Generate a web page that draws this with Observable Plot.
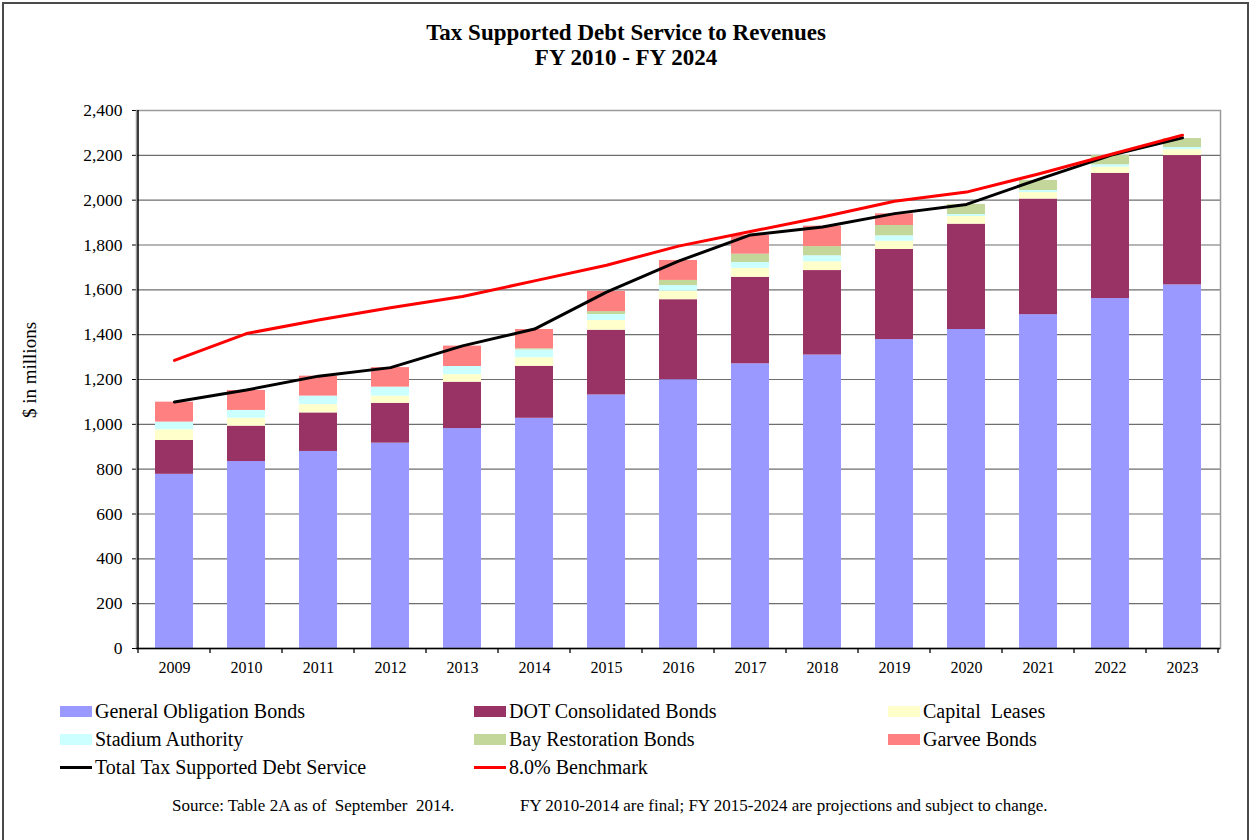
<!DOCTYPE html>
<html>
<head>
<meta charset="utf-8">
<script src="https://cdn.jsdelivr.net/npm/d3@7"></script>
<script src="https://cdn.jsdelivr.net/npm/@observablehq/plot@0.6"></script>
<style>
  html, body { margin: 0; padding: 0; background: #fff; }
  body { width: 1252px; height: 840px; position: relative; overflow: hidden; font-family: "Liberation Serif", "Times New Roman", serif; color: #000; }
  #frame { position: absolute; left: 2px; top: 2px; width: 1247px; height: 845px; border: 2px solid #4a4a4a; box-sizing: border-box; }
  #title { position: absolute; left: 0; top: 20px; width: 1252px; text-align: center; font-weight: bold; font-size: 23px; line-height: 25px; }
  #chart { position: absolute; left: 0; top: 90px; }
  #ylab { position: absolute; left: 30px; top: 370px; font-size: 19px; white-space: nowrap; transform: translate(-50%, -50%) rotate(-90deg); }
  .leg { position: absolute; font-size: 20px; line-height: 20px; white-space: pre; }
  .sw { position: absolute; width: 32px; height: 11px; }
  .ln { position: absolute; width: 32px; height: 3px; }
  .src { position: absolute; top: 797px; font-size: 17px; line-height: 18px; white-space: pre; }
</style>
</head>
<body>
<div id="frame"></div>
<div id="title">Tax Supported Debt Service to Revenues<br>FY 2010 - FY 2024</div>
<div id="chart"></div>
<div id="ylab">$ in millions</div>
<div id="legend"></div>
<div class="src" style="left:172px">Source: Table 2A as of  September  2014.</div>
<div class="src" style="left:520px">FY 2010-2014 are final; FY 2015-2024 are projections and subject to change.</div>
<script>
// ---- data ----
const years = ["2009","2010","2011","2012","2013","2014","2015","2016","2017","2018","2019","2020","2021","2022","2023"];
const seriesNames = ["General Obligation Bonds","DOT Consolidated Bonds","Capital  Leases","Stadium Authority","Bay Restoration Bonds","Garvee Bonds"];
const seriesColors = ["#9999FF","#993366","#FFFFCC","#CCFFFF","#C4D79B","#FF8080"];
const generalObligation = [777, 834, 879, 916, 981, 1027, 1131, 1199, 1270, 1309, 1378, 1423, 1489, 1561, 1622];
const dotConsolidated   = [151, 158, 172, 178, 207, 232, 289, 357, 386, 377, 402, 470, 516, 559, 577];
const capitalLeases     = [48, 35, 37, 32, 34, 38, 43, 38, 40, 39, 37, 34, 29, 27, 26];
const stadiumAuthority  = [34, 35, 38, 40, 36, 35, 27, 25, 26, 27, 24, 9, 9, 11, 10];
const bayRestoration    = [0, 0, 0, 0, 0, 5, 13, 23, 37, 41, 46, 45, 45, 41, 40];
const garveeBonds       = [89, 89, 89, 87, 91, 86, 90, 89, 84, 91, 52, 0, 0, 0, 0];
const totalDebtService  = [1100, 1153, 1215, 1253, 1350, 1425, 1590, 1728, 1845, 1880, 1940, 1981, 2093, 2200, 2278];
const benchmark8pct     = [1285, 1405, 1465, 1520, 1570, 1640, 1710, 1795, 1860, 1925, 1995, 2036, 2117, 2204, 2290];
const yTicks = [0,200,400,600,800,1000,1200,1400,1600,1800,2000,2200,2400];
const lineNames = ["Total Tax Supported Debt Service","8.0% Benchmark"];
const lineColors = ["#000000","#FF0000"];

// ---- build tables ----
const seriesValues = [generalObligation, dotConsolidated, capitalLeases, stadiumAuthority, bayRestoration, garveeBonds];
const stacked = [];
years.forEach((yr, i) => {
  seriesNames.forEach((s, j) => stacked.push({year: yr, series: s, value: seriesValues[j][i]}));
});
const totalRows = years.map((yr, i) => ({year: yr, value: totalDebtService[i]}));
const benchRows = years.map((yr, i) => ({year: yr, value: benchmark8pct[i]}));

const chart = Plot.plot({
  width: 1252,
  height: 600,
  marginLeft: 136,
  marginRight: 32,
  marginTop: 20,
  marginBottom: 42,
  style: {fontFamily: "'Liberation Serif', 'Times New Roman', serif", fontSize: "16px", color: "#000", background: "transparent"},
  x: {type: "band", domain: years, paddingInner: 0.47, paddingOuter: 0.235, tickSize: 0, tickPadding: 13, label: null},
  y: {domain: [0, 2400], ticks: yTicks, tickFormat: d3.format(","), tickSize: 4, tickPadding: 10, label: null},
  color: {domain: seriesNames, range: seriesColors},
  marks: [
    Plot.ruleY(yTicks.filter(d => d > 0 && d < 2400), {stroke: "#6e6e6e", strokeWidth: 1.2}),
    Plot.barY(stacked, {x: "year", y: "value", fill: "series", order: seriesNames}),
    Plot.frame({stroke: "#9a9a9a", strokeWidth: 1.5}),
    Plot.ruleY([0], {stroke: "#000", strokeWidth: 1.5}),
    Plot.line(totalRows, {x: "year", y: "value", stroke: lineColors[0], strokeWidth: 3}),
    Plot.line(benchRows, {x: "year", y: "value", stroke: lineColors[1], strokeWidth: 3})
  ]
});
document.getElementById("chart").appendChild(chart);

// y-axis tick labels a little larger, like the reference
d3.select(chart).selectAll("g[aria-label='y-axis tick label'] text, g[aria-label='y-axis'] text").style("font-size", "17.5px");

// x tick marks at band boundaries and left axis line, using the plot's own scales
const xs = chart.scale("x");
const ysc = chart.scale("y");
const svg = d3.select(chart);
const step = xs.step, bw = xs.bandwidth;
const gap = (step - bw) / 2;
const y0 = ysc.apply(0);
const bounds = years.map(yr => xs.apply(yr) - gap).concat([xs.apply(years[years.length - 1]) + bw + gap]);
const g = svg.append("g");
g.selectAll("line.xt").data(bounds).join("line")
  .attr("x1", d => d).attr("x2", d => d).attr("y1", y0).attr("y2", y0 + 5)
  .attr("stroke", "#000").attr("stroke-width", 1.3);
g.append("line").attr("x1", bounds[0]).attr("x2", bounds[0])
  .attr("y1", ysc.apply(2400)).attr("y2", y0).attr("stroke", "#000").attr("stroke-width", 1.5);

// ---- legend ----
const legend = document.getElementById("legend");
const colX = [60, 474, 888];
const rowY = [711, 739, 767];
const items = seriesNames.map((n, i) => ({name: n, color: seriesColors[i], type: "box"}))
  .concat(lineNames.map((n, i) => ({name: n, color: lineColors[i], type: "line"})));
items.forEach((it, i) => {
  const c = i % 3, r = Math.floor(i / 3);
  const sw = document.createElement("div");
  sw.className = it.type === "box" ? "sw" : "ln";
  sw.style.background = it.color;
  sw.style.left = colX[c] + "px";
  sw.style.top = (rowY[r] - (it.type === "box" ? 5.5 : 1.5)) + "px";
  legend.appendChild(sw);
  const t = document.createElement("div");
  t.className = "leg";
  t.style.left = (colX[c] + 35) + "px";
  t.style.top = (rowY[r] - 10) + "px";
  t.textContent = it.name;
  legend.appendChild(t);
});
</script>
</body>
</html>
